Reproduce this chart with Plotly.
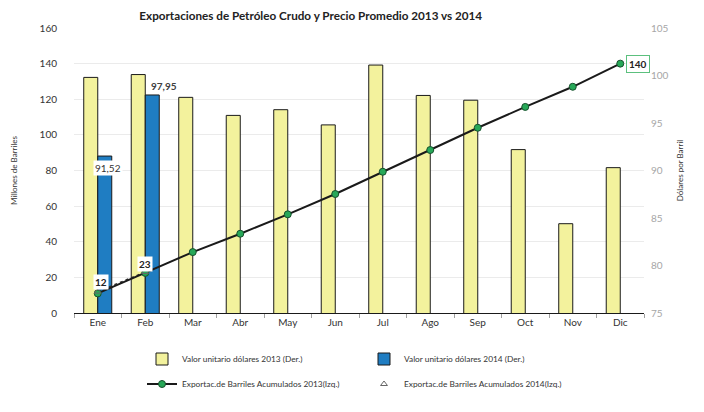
import plotly.graph_objects as go

months = ["Ene", "Feb", "Mar", "Abr", "May", "Jun", "Jul", "Ago", "Sep", "Oct", "Nov", "Dic"]
precio_2013 = [99.8, 100.1, 97.7, 95.8, 96.4, 94.8, 101.1, 97.9, 97.4, 92.2, 84.4, 90.3]
precio_2014 = [91.52, 97.95]
export_2013 = [11.0, 22.5, 34.2, 44.5, 55.4, 66.8, 79.3, 91.5, 104.0, 115.7, 127.0, 140.0]
export_2014 = [12, 23]

FONT = "Lato, 'Open Sans', sans-serif"

fig = go.Figure()

fig.add_trace(go.Bar(
    x=months, y=precio_2013, yaxis="y",
    name="Valor unitario dólares 2013 (Der.)",
    marker=dict(color="#F3F29D", line=dict(color="#1a1a1a", width=1)),
    legend="legend",
))
fig.add_trace(go.Bar(
    x=months[:len(precio_2014)], y=precio_2014, yaxis="y",
    name="Valor unitario dólares 2014 (Der.)",
    marker=dict(color="#1F7DC2", line=dict(color="#1a1a1a", width=1)),
    legend="legend",
))
# dotted 2014 connector
fig.add_trace(go.Scatter(
    x=months[:len(export_2014)], y=export_2014, yaxis="y2",
    mode="lines", line=dict(color="#333333", width=1.5, dash="dot"),
    showlegend=False, hoverinfo="skip",
))
fig.add_trace(go.Scatter(
    x=months, y=export_2013, yaxis="y2",
    name="Exportac.de Barriles Acumulados 2013(Izq.)",
    mode="lines+markers",
    line=dict(color="#1a1a1a", width=2),
    marker=dict(color="#27A858", size=7, line=dict(color="#17502c", width=1)),
    legend="legend2",
))
fig.add_trace(go.Scatter(
    x=months[:len(export_2014)], y=export_2014, yaxis="y2",
    name="Exportac.de Barriles Acumulados 2014(Izq.)",
    mode="markers",
    marker=dict(symbol="triangle-up-open", color="#666666", size=6, line=dict(width=1)),
    legend="legend2",
))

def fmt(v):
    return f"{v:.2f}".replace(".", ",")

annotations = [
    dict(x=months[0], y=precio_2014[0], xref="x", yref="y", text=fmt(precio_2014[0]),
         showarrow=False, xshift=10, yshift=-12, bgcolor="white",
         font=dict(size=10, color="#333333", family=FONT)),
    dict(x=months[1], y=precio_2014[1], xref="x", yref="y", text="<b>" + fmt(precio_2014[1]) + "</b>",
         showarrow=False, xshift=19, yshift=9,
         font=dict(size=10, color="#404040", family=FONT)),
    dict(x=months[0], y=export_2014[0], xref="x", yref="y2", text=f"<b>{export_2014[0]}</b>",
         showarrow=False, xshift=3, yshift=10, bgcolor="white",
         font=dict(size=10, color="#222222", family=FONT)),
    dict(x=months[1], y=export_2014[1], xref="x", yref="y2", text=f"<b>{export_2014[1]}</b>",
         showarrow=False, xshift=0, yshift=8, bgcolor="white",
         font=dict(size=10, color="#222222", family=FONT)),
    dict(x=months[-1], y=export_2013[-1], xref="x", yref="y2", text=f"<b>{export_2013[-1]:.0f}</b>",
         showarrow=False, xshift=18, yshift=0, bgcolor="white", bordercolor="#5CC07E",
         borderwidth=1, borderpad=2,
         font=dict(size=10, color="#222222", family=FONT)),
]

fig.update_layout(
    width=704, height=412,
    margin=dict(l=66, r=68, t=20, b=107, autoexpand=False),
    paper_bgcolor="white", plot_bgcolor="white",
    font=dict(family=FONT, size=10, color="#333333"),
    title=dict(text="<b>Exportaciones de Petróleo Crudo y Precio Promedio 2013 vs 2014</b>",
               x=0.43, xanchor="center", y=0.981, yanchor="middle",
               font=dict(size=11.7, color="#222222", family=FONT)),
    barmode="group", bargap=0.41, bargroupgap=0,
    xaxis=dict(
        type="category", range=[-0.5, 11.5], showline=True, linecolor="#1a1a1a", linewidth=1,
        ticks="outside", tickson="boundaries", ticklen=4, tickcolor="#a0a0a0",
        tickfont=dict(size=10, color="#333333"), showgrid=False, automargin=False,
    ),
    yaxis=dict(
        side="right", range=[75, 105], dtick=5, showgrid=False, zeroline=False,
        ticks="outside", ticklen=4, tickcolor="rgba(0,0,0,0)", automargin=False,
        tickfont=dict(size=10, color="#A6A6A6"),
        title=dict(text="Dólares por Barril", font=dict(size=8, color="#333333"), standoff=9),
    ),
    yaxis2=dict(
        overlaying="y", side="left", range=[0, 160], dtick=20,
        showgrid=True, gridcolor="#EBEBEB", gridwidth=1, zeroline=False,
        ticks="outside", ticklen=14, tickcolor="rgba(0,0,0,0)", automargin=False,
        tickfont=dict(size=10, color="#333333"),
        title=dict(text="Millones de Barriles", font=dict(size=8, color="#333333"), standoff=20),
    ),
    legend=dict(orientation="h", x=134 / 704, xanchor="left", y=1 - 351 / 412, yanchor="middle",
                xref="container", yref="container", entrywidth=177, entrywidthmode="pixels",
                font=dict(size=8.3, color="#333333"), traceorder="normal", itemclick=False),
    legend2=dict(orientation="h", x=134 / 704, xanchor="left", y=1 - 376 / 412, yanchor="middle",
                 xref="container", yref="container", entrywidth=177, entrywidthmode="pixels",
                 font=dict(size=8.3, color="#333333"), traceorder="normal", itemclick=False),
    annotations=annotations,
    showlegend=True,
)

fig.write_html("out.html")
